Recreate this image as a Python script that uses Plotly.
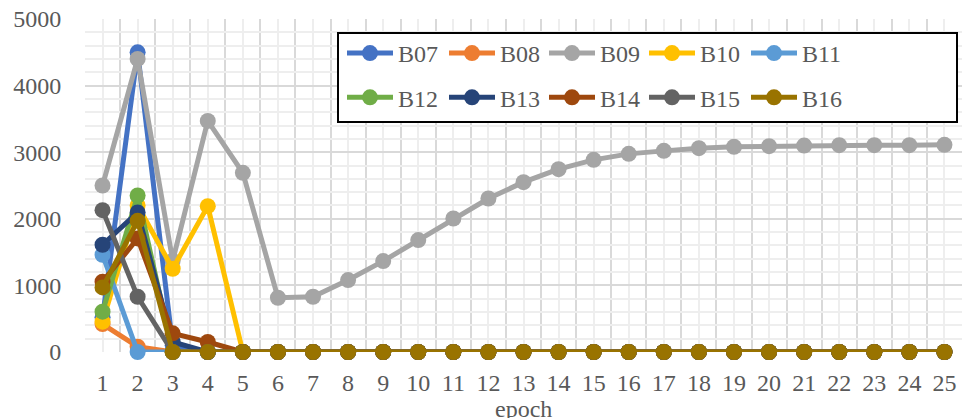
import plotly.graph_objects as go

epochs = list(range(1, 26))
x_labels = [str(e) for e in epochs]
x_title = "epoch"

B07 = [520, 4500, 100, 0, 0, 0, 0, 0, 0, 0, 0, 0, 0, 0, 0, 0, 0, 0, 0, 0, 0, 0, 0, 0, 0]
B08 = [420, 80, 0, 0, 0, 0, 0, 0, 0, 0, 0, 0, 0, 0, 0, 0, 0, 0, 0, 0, 0, 0, 0, 0, 0]
B09 = [2500, 4400, 1370, 3470, 2690, 815, 830, 1080, 1365, 1680, 2005, 2305, 2550, 2745,
       2885, 2975, 3020, 3060, 3080, 3090, 3100, 3105, 3105, 3105, 3110]
B10 = [455, 2200, 1250, 2190, 0, 0, 0, 0, 0, 0, 0, 0, 0, 0, 0, 0, 0, 0, 0, 0, 0, 0, 0, 0, 0]
B11 = [1460, 0, 0, 0, 0, 0, 0, 0, 0, 0, 0, 0, 0, 0, 0, 0, 0, 0, 0, 0, 0, 0, 0, 0, 0]
B12 = [605, 2350, 0, 0, 0, 0, 0, 0, 0, 0, 0, 0, 0, 0, 0, 0, 0, 0, 0, 0, 0, 0, 0, 0, 0]
B13 = [1610, 2095, 150, 0, 0, 0, 0, 0, 0, 0, 0, 0, 0, 0, 0, 0, 0, 0, 0, 0, 0, 0, 0, 0, 0]
B14 = [1055, 1705, 280, 150, 0, 0, 0, 0, 0, 0, 0, 0, 0, 0, 0, 0, 0, 0, 0, 0, 0, 0, 0, 0, 0]
B15 = [2130, 830, 0, 0, 0, 0, 0, 0, 0, 0, 0, 0, 0, 0, 0, 0, 0, 0, 0, 0, 0, 0, 0, 0, 0]
B16 = [970, 1970, 0, 0, 0, 0, 0, 0, 0, 0, 0, 0, 0, 0, 0, 0, 0, 0, 0, 0, 0, 0, 0, 0, 0]

series_names = ["B07", "B08", "B09", "B10", "B11", "B12", "B13", "B14", "B15", "B16"]
series_values = [B07, B08, B09, B10, B11, B12, B13, B14, B15, B16]
colors = ["#4472C4", "#ED7D31", "#A5A5A5", "#FFC000", "#5B9BD5",
          "#70AD47", "#264478", "#9E480E", "#636363", "#997300"]

y_ticks = [0, 1000, 2000, 3000, 4000, 5000]

FONT = "Liberation Serif"
TXT = "#595959"

# plot area geometry (pixels) used to place the legend
L, T, W, H = 85, 19, 877, 333
def px(x):
    return (x - L) / W
def py(y):
    return (T + H - y) / H

legend_ids = ["legend", "legend2", "legend3", "legend4", "legend5"]

fig = go.Figure()
for i, (name, vals, col) in enumerate(zip(series_names, series_values, colors)):
    fig.add_trace(go.Scatter(
        x=epochs, y=vals, name=name, mode="lines+markers",
        line=dict(color=col, width=5),
        marker=dict(color=col, size=16),
        cliponaxis=False,
        legend=legend_ids[i % 5],
        legendgroup=name,
    ))

col_text_x = [398, 500, 600, 700, 802]
legend_common = dict(
    orientation="v", yanchor="top", xanchor="left",
    bgcolor="rgba(0,0,0,0)", borderwidth=0,
    font=dict(family=FONT, size=24, color=TXT),
    itemwidth=46, traceorder="grouped", tracegroupgap=10,
)
legends = {}
for lid, tx in zip(legend_ids, col_text_x):
    legends[lid] = dict(legend_common, x=px(tx - 56), y=py(31))

fig.update_layout(
    width=963, height=418,
    margin=dict(l=L, r=963 - L - W, t=T, b=418 - T - H),
    paper_bgcolor="white", plot_bgcolor="white",
    font=dict(family=FONT, size=24, color=TXT),
    showlegend=True,
    shapes=[dict(type="rect", xref="paper", yref="paper",
                 x0=px(338), x1=px(957), y0=py(122), y1=py(33),
                 line=dict(color="black", width=2), fillcolor="white",
                 layer="above")],
    annotations=[dict(text=x_title, xref="paper", yref="paper",
                      x=0.5, y=py(394), xanchor="center", yanchor="top",
                      showarrow=False,
                      font=dict(family=FONT, size=24, color=TXT))],
    **legends,
)

fig.update_xaxes(
    range=[0.5, 25.5],
    tickmode="array", tickvals=epochs, ticktext=x_labels,
    showgrid=True, gridcolor="#EEEEEE", gridwidth=1.5,
    minor=dict(tickmode="array", tickvals=[e - 0.5 for e in epochs] + [25.5],
               showgrid=True, gridcolor="#D9D9D9", gridwidth=2),
    ticks="outside", ticklen=9, tickcolor="rgba(0,0,0,0)",
    zeroline=False, showline=False,
    automargin=False,
)

fig.update_yaxes(
    range=[0, 5000],
    tickmode="array", tickvals=y_ticks,
    showgrid=True, gridcolor="#D9D9D9", gridwidth=2,
    minor=dict(dtick=200, showgrid=True, gridcolor="#EEEEEE", gridwidth=1.5),
    ticks="outside", ticklen=18, tickcolor="rgba(0,0,0,0)",
    zeroline=False, showline=False,
    automargin=False,
)

fig.write_html("out.html", config={"displayModeBar": False},
               post_script="document.body.style.margin='0';")
